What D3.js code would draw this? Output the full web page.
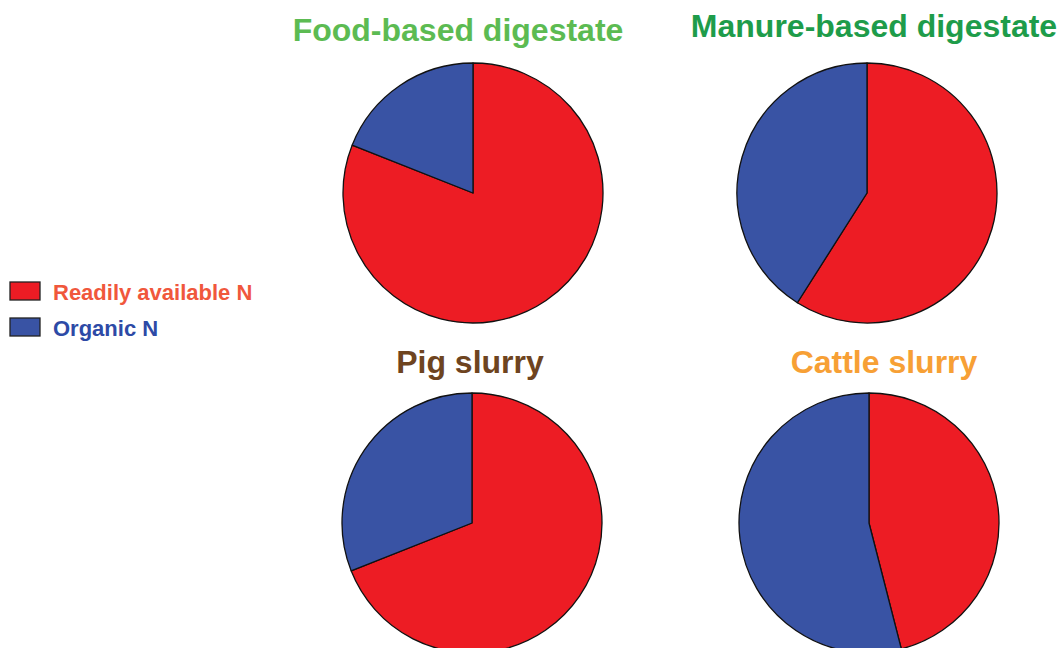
<!DOCTYPE html>
<html>
<head>
<meta charset="utf-8">
<script src="https://cdn.jsdelivr.net/npm/d3@7"></script>
<style>
  html, body { margin: 0; padding: 0; background: #fff; }
  svg { display: block; }
  text { font-family: "Liberation Sans", Arial, sans-serif; font-weight: bold; }
</style>
</head>
<body>
<svg id="chart" width="1061" height="648"></svg>
<script>
// Nitrogen split (%) for each material
const categories = ["Readily available N", "Organic N"];
const materials = ["Food-based digestate", "Manure-based digestate", "Pig slurry", "Cattle slurry"];
const readilyAvailable = [81, 59, 69, 46];
const organic = [19, 41, 31, 54];

const sliceColors = ["#ed1c24", "#3953a4"];
const legendText = ["#f0573c", "#2d4aa6"];
const titleColors = ["#5cbb52", "#1e9c4a", "#6e4420", "#f7a035"];

const svg = d3.select("#chart");
const radius = 130;

// 2 x 2 grid of pies
const colTop = d3.scalePoint().domain([0, 1]).range([473, 867]);
const colBottom = d3.scalePoint().domain([0, 1]).range([472, 869]);
const row = d3.scalePoint().domain([0, 1]).range([193, 523]);
const titleY = [[41, 37], [373, 373]];
const titleX = [[458, 874], [470, 884]];

const pie = d3.pie().sort(null).value(d => d.value);
const arc = d3.arc().innerRadius(0).outerRadius(radius);

materials.forEach((name, i) => {
  const c = i % 2, r = Math.floor(i / 2);
  const data = [
    { key: categories[0], value: readilyAvailable[i] },
    { key: categories[1], value: organic[i] }
  ];
  const cx = r === 0 ? colTop(c) : colBottom(c);
  const g = svg.append("g")
    .attr("transform", `translate(${cx},${row(r)})`);
  g.selectAll("path")
    .data(pie(data))
    .join("path")
    .attr("d", arc)
    .attr("fill", (d, k) => sliceColors[k])
    .attr("stroke", "#111")
    .attr("stroke-width", 1.3)
    .attr("stroke-linejoin", "round");

  svg.append("text")
    .attr("x", titleX[r][c])
    .attr("y", titleY[r][c])
    .attr("text-anchor", "middle")
    .attr("font-size", 32)
    .attr("fill", titleColors[i])
    .text(name);
});

// Legend
const legend = svg.append("g").attr("transform", "translate(10,282)");
categories.forEach((name, k) => {
  const y = k * 36;
  legend.append("rect")
    .attr("x", 0).attr("y", y)
    .attr("width", 30).attr("height", 18)
    .attr("fill", sliceColors[k])
    .attr("stroke", "#222").attr("stroke-width", 1.3);
  legend.append("text")
    .attr("x", 43).attr("y", y + 18)
    .attr("font-size", 22)
    .attr("fill", legendText[k])
    .text(name);
});
</script>
</body>
</html>
